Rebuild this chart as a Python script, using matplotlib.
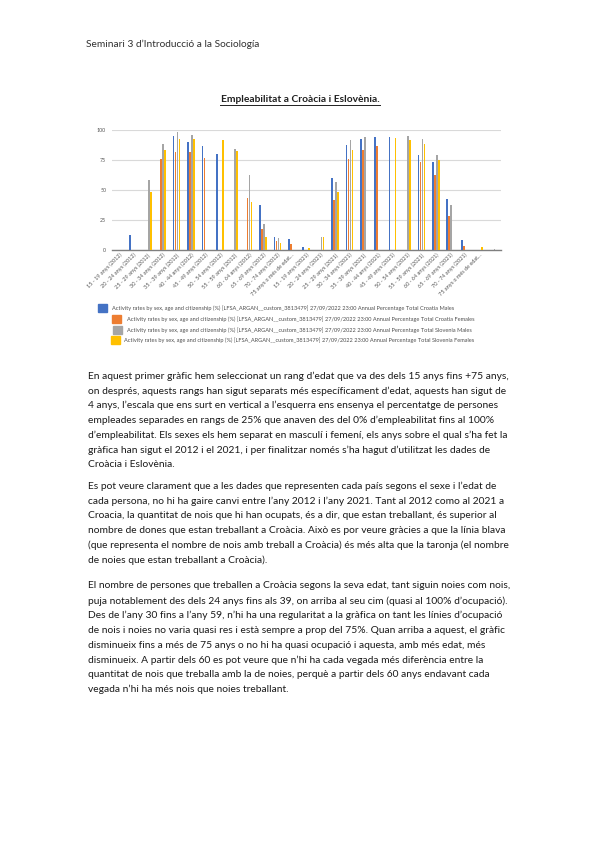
import matplotlib
matplotlib.use("Agg")
import matplotlib.pyplot as plt
import numpy as np
from matplotlib.patches import Rectangle

# ---------------- data ----------------
categories = [
    "15 - 19 anys (2012)", "20 - 24 anys (2012)", "25 - 29 anys (2012)",
    "30 - 34 anys (2012)", "35 - 39 anys (2012)", "40 - 44 anys (2012)",
    "45 - 49 anys (2012)", "50 - 54 anys (2012)", "55 - 59 anys (2012)",
    "60 - 64 anys (2012)", "65 - 69 anys (2012)", "70 - 74 anys (2012)",
    "75 anys o més de edat...",
    "15 - 19 anys (2021)", "20 - 24 anys (2021)", "25 - 29 anys (2021)",
    "30 - 34 anys (2021)", "35 - 39 anys (2021)", "40 - 44 anys (2021)",
    "45 - 49 anys (2021)", "50 - 54 anys (2021)", "55 - 59 anys (2021)",
    "60 - 64 anys (2021)", "65 - 69 anys (2021)", "70 - 74 anys (2021)",
    "75 anys o més de edat...", "",
]
croatia_males = [0, 12.5, 0, 0, 94.4, 89.4, 86.7, 80, 0, 0, 37.2, 10.6, 8.9,
                 2.2, 0, 60, 87.5, 91.9, 93.6, 93.6, 0, 78.6, 72.8, 42.5, 8.3, 0, 0]
croatia_females = [0, 0, 0, 75.6, 81.7, 81.7, 76.7, 0, 0, 43, 16.9, 6.9, 4.7,
                   0, 0, 41.7, 75.8, 82.8, 86.1, 0, 0, 72.8, 61.9, 28.1, 3.1, 0, 0]
slovenia_males = [0, 0, 58.3, 88.3, 97.8, 95.3, 0, 0, 84.2, 62.5, 21.4, 9.7, 0,
                  0, 10.6, 56.7, 91.1, 93.6, 0, 0, 94.4, 91.9, 78.6, 37.5, 0, 0, 0.6]
slovenia_females = [0, 0, 48, 83.3, 92.5, 92.5, 0, 91.1, 82.5, 39.7, 10.6, 5.3, 0,
                    1.4, 10.6, 47.8, 82.8, 0, 0, 92.8, 91.1, 87.8, 74.4, 0, 0, 2.2, 0]
yticks = [0, 25, 50, 75, 100]
series_names = [
    "Activity rates by sex, age and citizenship (%) [LFSA_ARGAN__custom_3813479] 27/09/2022 23:00 Annual Percentage Total Croatia Males",
    "Activity rates by sex, age and citizenship (%) [LFSA_ARGAN__custom_3813479] 27/09/2022 23:00 Annual Percentage Total Croatia Females",
    "Activity rates by sex, age and citizenship (%) [LFSA_ARGAN__custom_3813479] 27/09/2022 23:00 Annual Percentage Total Slovenia Males",
    "Activity rates by sex, age and citizenship (%) [LFSA_ARGAN__custom_3813479] 27/09/2022 23:00 Annual Percentage Total Slovenia Females",
]
colors = ["#4472C4", "#ED7D31", "#A5A5A5", "#FFC000"]

header = "Seminari 3 d\u2019Introducció a la Sociología"
title = "Empleabilitat a Croàcia i Eslovènia."
paragraphs = [
    ["En aquest primer gràfic hem seleccionat un rang d\u2019edat que va des dels 15 anys fins +75 anys,",
     "on després, aquests rangs han sigut separats més específicament d\u2019edat, aquests han sigut de",
     "4 anys, l\u2019escala que ens surt en vertical a l\u2019esquerra ens ensenya el percentatge de persones",
     "empleades separades en rangs de 25% que anaven des del 0% d\u2019empleabilitat fins al 100%",
     "d\u2019empleabilitat. Els sexes els hem separat en masculí i femení, els anys sobre el qual s\u2019ha fet la",
     "gràfica han sigut el 2012 i el 2021, i per finalitzar només s\u2019ha hagut d\u2019utilitzat les dades de",
     "Croàcia i Eslovènia."],
    ["Es pot veure clarament que a les dades que representen cada país segons el sexe i l\u2019edat de",
     "cada persona, no hi ha gaire canvi entre l\u2019any 2012 i l\u2019any 2021. Tant al 2012 como al 2021 a",
     "Croacia, la quantitat de nois que hi han ocupats, és a dir, que estan treballant, és superior al",
     "nombre de dones que estan treballant a Croàcia. Això es por veure gràcies a que la línia blava",
     "(que representa el nombre de nois amb treball a Croàcia) és més alta que la taronja (el nombre",
     "de noies que estan treballant a Croàcia)."],
    ["El nombre de persones que treballen a Croàcia segons la seva edat, tant siguin noies com nois,",
     "puja notablement des dels 24 anys fins als 39, on arriba al seu cim (quasi al 100% d\u2019ocupació).",
     "Des de l\u2019any 30 fins a l\u2019any 59, n\u2019hi ha una regularitat a la gràfica on tant les línies d\u2019ocupació",
     "de nois i noies no varia quasi res i està sempre a prop del 75%. Quan arriba a aquest, el gràfic",
     "disminueix fins a més de 75 anys o no hi ha quasi ocupació i aquesta, amb més edat, més",
     "disminueix. A partir dels 60 es pot veure que n\u2019hi ha cada vegada més diferència entre la",
     "quantitat de nois que treballa amb la de noies, perquè a partir dels 60 anys endavant cada",
     "vegada n\u2019hi ha més nois que noies treballant."],
]

# ---------------- figure ----------------
W, H = 599, 848
fig = plt.figure(figsize=(W / 100, H / 100), dpi=100)
fig.patch.set_facecolor("white")
FONT = ["Lato", "DejaVu Sans"]

def fx(px):
    return px / W

def fy(py):
    return 1 - py / H

renderer = fig.canvas.get_renderer()

def fit_size(text, target_w, base=8, **kw):
    t = fig.text(0, 0, text, fontsize=base, family=FONT, **kw)
    w = t.get_window_extent(renderer).width
    t.remove()
    return base * target_w / w

# header
hs = fit_size(header, 176)
fig.text(fx(86), fy(44), header, fontsize=hs, family=FONT, color="#303030",
         ha="left", va="center")

# title
ts = fit_size(title, 160, weight="bold")
fig.text(fx(300), fy(100), title, fontsize=ts, family=FONT, weight="bold",
         color="#202020", ha="center", va="center")
fig.add_artist(plt.Line2D([fx(220), fx(380)], [fy(105), fy(105)],
                          color="#202020", lw=0.7))

# ---------------- chart ----------------
ax = fig.add_axes([fx(111.7), fy(249.5), fx(500.7) - fx(111.7), (249.5 - 129.7) / H])
x = np.arange(len(categories))
pitch = 0.139
bw = 0.115
for i, (vals, c) in enumerate(zip([croatia_males, croatia_females, slovenia_males, slovenia_females], colors)):
    ax.bar(x + (i - 1.5) * pitch, vals, width=bw, color=c, zorder=3, linewidth=0)
ax.set_xlim(-0.5, len(categories) - 0.5)
ax.set_ylim(0, 100)
ax.set_yticks(yticks)
ax.set_yticklabels([str(v) for v in yticks], fontsize=3.8, color="#555555", family=FONT)
ax.yaxis.grid(True, color="#D9D9D9", lw=0.8, zorder=0)
ax.tick_params(axis="y", length=0, pad=4)
ax.tick_params(axis="x", length=0, pad=2)
ax.set_xticks(x)
ax.set_xticklabels(categories, rotation=45, ha="right", rotation_mode="anchor",
                   fontsize=4.0, color="#555555", family=FONT)
for s in ["top", "right", "left"]:
    ax.spines[s].set_visible(False)
ax.spines["bottom"].set_color("#7F7F7F")
ax.spines["bottom"].set_linewidth(1.0)
ax.set_facecolor("white")

# ---------------- legend ----------------
leg_rows = [
    (308, 98, 112),
    (319, 112, 127),
    (330, 113, 127),
    (340, 111, 124),
]
for (yy, sx, tx), name, c in zip(leg_rows, series_names, colors):
    fig.add_artist(Rectangle((fx(sx), fy(yy + 4)), 8.5 / W, 8 / H, color=c,
                             transform=fig.transFigure))
    fig.text(fx(tx), fy(yy), name, fontsize=4.1, family=FONT, color="#505050",
             ha="left", va="center")

# ---------------- body text ----------------
bs = fit_size(paragraphs[0][0], 422)
starts = [376, 486, 586]
spacing = 14.8
for para, y0 in zip(paragraphs, starts):
    for k, line in enumerate(para):
        fig.text(fx(88), fy(y0 + k * spacing), line, fontsize=bs, family=FONT,
                 color="#1a1a1a", ha="left", va="center")

fig.savefig("out.png", dpi=100, facecolor="white")
